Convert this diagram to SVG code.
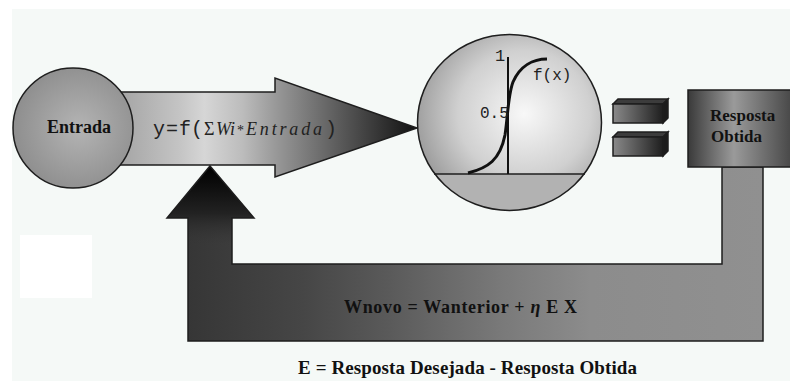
<svg xmlns="http://www.w3.org/2000/svg" width="790" height="381" viewBox="0 0 790 381">
  <defs>
    <style>
      .outline { stroke: #1e1e1e; stroke-width: 1.5; stroke-linejoin: miter; }
      .bold { font-family: "Liberation Serif", "Times New Roman", serif; font-weight: bold; fill: #111; }
      .mono { font-family: "Liberation Mono", "Courier New", monospace; fill: #222; }
      .ital { font-family: "Liberation Serif", "Times New Roman", serif; font-style: italic; fill: #222; }
    </style>
    <radialGradient id="gEntrada" cx="0.55" cy="0.5" r="0.55">
      <stop offset="0" stop-color="#b4b4b4"/>
      <stop offset="1" stop-color="#8e8e8e"/>
    </radialGradient>
    <radialGradient id="gSig" cx="0.58" cy="0.45" r="0.6">
      <stop offset="0" stop-color="#f8f8f8"/>
      <stop offset="0.6" stop-color="#d0d0d0"/>
      <stop offset="1" stop-color="#9c9c9c"/>
    </radialGradient>
    <linearGradient id="gMain" gradientUnits="userSpaceOnUse" x1="100" y1="0" x2="417" y2="0">
      <stop offset="0" stop-color="#9a9a9a"/>
      <stop offset="0.25" stop-color="#c4c4c4"/>
      <stop offset="0.33" stop-color="#d6d6d6"/>
      <stop offset="0.45" stop-color="#bcbcbc"/>
      <stop offset="0.55" stop-color="#9a9a9a"/>
      <stop offset="0.75" stop-color="#5c5c5c"/>
      <stop offset="1" stop-color="#111111"/>
    </linearGradient>
    <linearGradient id="gFeed" gradientUnits="userSpaceOnUse" x1="188" y1="0" x2="763" y2="0">
      <stop offset="0" stop-color="#363636"/>
      <stop offset="0.2" stop-color="#464646"/>
      <stop offset="0.35" stop-color="#5a5a5a"/>
      <stop offset="0.55" stop-color="#7a7a7a"/>
      <stop offset="0.7" stop-color="#8c8c8c"/>
      <stop offset="1" stop-color="#909090"/>
    </linearGradient>
    <linearGradient id="gHead" gradientUnits="userSpaceOnUse" x1="0" y1="166" x2="0" y2="245">
      <stop offset="0" stop-color="#000000"/>
      <stop offset="0.6" stop-color="#222222"/>
      <stop offset="1" stop-color="#363636" stop-opacity="0"/>
    </linearGradient>
    <linearGradient id="gBox" gradientUnits="userSpaceOnUse" x1="688" y1="0" x2="790" y2="0">
      <stop offset="0" stop-color="#3a3a3a"/>
      <stop offset="0.45" stop-color="#9a9a9a"/>
      <stop offset="1" stop-color="#4a4a4a"/>
    </linearGradient>
    <linearGradient id="gBar" x1="0" y1="0" x2="1" y2="0">
      <stop offset="0" stop-color="#8a8a8a"/>
      <stop offset="1" stop-color="#1e1e1e"/>
    </linearGradient>
    <clipPath id="sigClip">
      <ellipse cx="509.5" cy="122.5" rx="92" ry="88"/>
    </clipPath>
    <g id="bar">
      <polygon points="5,0 55,0 50,5 0,5" fill="#3c3c3c" class="outline" stroke-width="1"/>
      <rect x="0" y="5" width="50" height="19" fill="url(#gBar)" class="outline" stroke-width="1"/>
      <polygon points="50,5 55,0 55,19 50,24" fill="#1c1c1c" class="outline" stroke-width="1"/>
    </g>
  </defs>

  <!-- background -->
  <rect x="0" y="0" width="790" height="381" fill="#ffffff"/>
  <rect x="12" y="9" width="778" height="372" fill="#f5f9f7"/>
  <rect x="20" y="235" width="72" height="63" fill="#ffffff"/>

  <g id="connectors">
    <!-- forward arrow -->
    <polygon id="main-arrow" points="100,92 275,92 275,78 417,128 275,177 275,165 100,165" fill="url(#gMain)" class="outline"/>
    <!-- feedback arrow -->
    <polygon points="210,166 254,218 232,218 232,264 722,264 722,167 763,167 763,341 188,341 188,218 167,218" fill="url(#gFeed)"/>
    <polygon points="210,166 254,218 232,218 232,245 188,245 188,218 167,218" fill="url(#gHead)"/>
    <polygon id="feedback-arrow" points="210,166 254,218 232,218 232,264 722,264 722,167 763,167 763,341 188,341 188,218 167,218" fill="none" class="outline"/>
  </g>

  <g id="entrada">
    <circle cx="73" cy="128" r="60" fill="url(#gEntrada)" class="outline"/>
    <text x="47" y="133" class="bold" font-size="18">Entrada</text>
  </g>

  <g id="formula">
    <text y="135" class="mono" font-size="20"><tspan x="153">y</tspan><tspan x="166">=</tspan><tspan x="179">f</tspan><tspan x="191">(</tspan></text>
    <text x="204" y="135" font-family="Liberation Serif, serif" font-size="18" fill="#222">Σ</text>
    <text x="216" y="135" class="ital" font-size="18">Wi</text>
    <text x="237" y="135" font-family="Liberation Serif, serif" font-size="14" fill="#222">*</text>
    <text x="246" y="135" class="ital" font-size="18" textLength="76" lengthAdjust="spacing">Entrada</text>
    <text x="325" y="135" class="mono" font-size="20">)</text>
  </g>

  <g id="sigmoid">
    <ellipse cx="509.5" cy="122.5" rx="92" ry="88" fill="url(#gSig)"/>
    <rect x="410" y="174" width="200" height="40" fill="#b2b2b2" clip-path="url(#sigClip)"/>
    <ellipse cx="509.5" cy="122.5" rx="92" ry="88" fill="none" class="outline"/>
    <line x1="434" y1="174" x2="585" y2="174" stroke="#1e1e1e" stroke-width="1.5"/>
    <line x1="508" y1="57" x2="508" y2="174" stroke="#111" stroke-width="2"/>
    <path d="M468,173 C488,168 500,160 505,135 C508,115 508,95 513,82 C520,66 533,59 547,59" fill="none" stroke="#111" stroke-width="3"/>
    <text x="495" y="61" class="mono" font-size="17">1</text>
    <text x="480" y="118" class="mono" font-size="16">0.5</text>
    <text x="533" y="80" class="mono" font-size="16">f(x)</text>
  </g>

  <g id="equals">
    <use href="#bar" x="613" y="99"/>
    <use href="#bar" x="613" y="132"/>
  </g>

  <g id="resposta-obtida">
    <rect x="688" y="90" width="110" height="77" fill="url(#gBox)" class="outline"/>
    <text x="710" y="121" class="bold" font-size="17">Resposta</text>
    <text x="711" y="142" class="bold" font-size="17">Obtida</text>
  </g>

  <g id="labels">
    <text x="344" y="313" class="bold" font-size="18" textLength="233" lengthAdjust="spacing">Wnovo = Wanterior + <tspan font-style="italic">η</tspan> E X</text>
    <text x="298" y="374" class="bold" font-size="19" textLength="339" lengthAdjust="spacing">E = Resposta Desejada - Resposta Obtida</text>
  </g>
</svg>
